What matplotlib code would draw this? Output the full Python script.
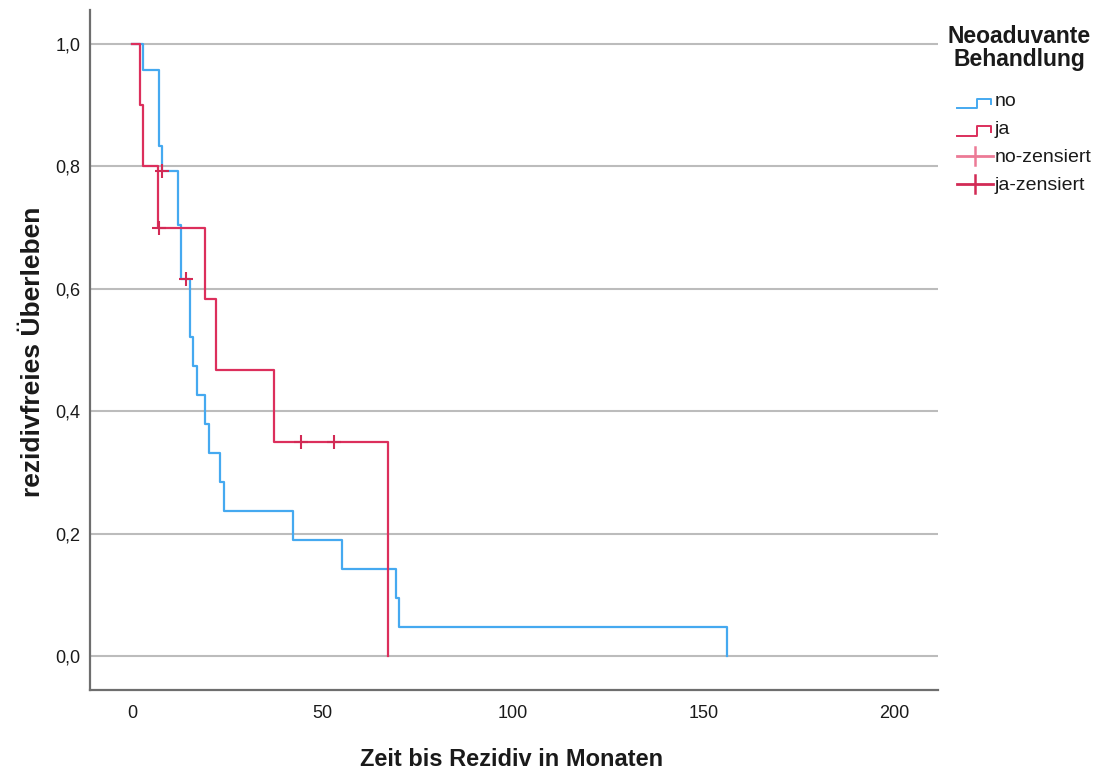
import matplotlib
matplotlib.use("Agg")
import matplotlib.pyplot as plt
from matplotlib.lines import Line2D
from matplotlib.ticker import FuncFormatter

# ---- data (Kaplan-Meier steps) ----
no_times = [0, 3.0, 7.1, 8.0, 12.2, 13.0, 15.2, 16.1, 17.1, 19.2, 20.2, 23.1, 24.1, 42.2, 55.2, 69.2, 70.2, 156.2]
no_surv = [1.0, 0.958, 0.833, 0.792, 0.704, 0.616, 0.521, 0.474, 0.426, 0.379, 0.332, 0.284, 0.237, 0.190, 0.142, 0.095, 0.047, 0.0]
no_cens_t = [8.0, 14.1]
no_cens_s = [0.792, 0.616]

ja_times = [0, 2.1, 3.0, 6.9, 19.2, 22.2, 37.3, 67.2]
ja_surv = [1.0, 0.9, 0.8, 0.7, 0.583, 0.467, 0.35, 0.0]
ja_cens_t = [7.2, 44.3, 53.1]
ja_cens_s = [0.7, 0.35, 0.35]

x_ticks = [0, 50, 100, 150, 200]
y_ticks = [0.0, 0.2, 0.4, 0.6, 0.8, 1.0]

legend_title = "Neoaduvante\nBehandlung"
legend_labels = ["no", "ja", "no-zensiert", "ja-zensiert"]

BLUE = "#45a9f0"
RED = "#dc2f5c"
CROSS = "#d22a55"
CROSS_LIGHT = "#ec7a96"
TXT = "#1a1a1a"

FONT = ["Liberation Sans", "DejaVu Sans"]
plt.rcParams["font.family"] = FONT

W, H = 1101, 771
fig = plt.figure(figsize=(W / 100, H / 100), dpi=100)

def fx(px):
    return px / W

def fy(py):
    return 1 - py / H

ax = fig.add_axes([fx(90), fy(690), fx(937.7) - fx(90), fy(10) - fy(690)])
ax.set_xlim(-11.0, 211.5)
ax.set_ylim(-0.0556, 1.0556)

for yv in y_ticks:
    ax.axhline(yv, color="#bcbcbc", lw=1.5, zorder=1)

ax.step(no_times, no_surv, where="post", color=BLUE, lw=1.6, zorder=3)
ax.step(ja_times, ja_surv, where="post", color=RED, lw=1.6, zorder=3)
ax.plot(no_cens_t, no_cens_s, ls="none", marker="+", ms=10, mew=1.5, color=CROSS, zorder=4)
ax.plot(ja_cens_t, ja_cens_s, ls="none", marker="+", ms=10, mew=1.5, color=CROSS, zorder=4)

ax.set_xticks(x_ticks)
ax.set_yticks(y_ticks)
ax.yaxis.set_major_formatter(FuncFormatter(lambda v, p: f"{v:.1f}".replace(".", ",")))
ax.tick_params(axis="both", length=0, labelsize=13, colors=TXT)
ax.tick_params(axis="x", pad=11)
ax.tick_params(axis="y", pad=7)

for s in ["top", "right"]:
    ax.spines[s].set_visible(False)
for s in ["left", "bottom"]:
    ax.spines[s].set_color("#6e6e6e")
    ax.spines[s].set_linewidth(1.6)

fig.text(fx(512), fy(759), "Zeit bis Rezidiv in Monaten", ha="center", va="center",
         fontsize=17, fontweight="bold", color=TXT)
fig.text(fx(33), fy(352), "rezidivfreies Überleben", ha="center", va="center",
         rotation=90, fontsize=19, fontweight="bold", color=TXT)

# ---- legend (drawn manually) ----
fig.text(fx(1019), fy(48), legend_title, ha="center", va="center", fontsize=16.5,
         fontweight="bold", color=TXT, linespacing=1.05)

def step_glyph(y_low, y_high, color):
    xs = [957, 977, 977, 991, 991]
    ys = [y_low, y_low, y_high, y_high, y_low - 4]
    fig.add_artist(Line2D([fx(v) for v in xs], [fy(v) for v in ys], color=color, lw=1.4,
                          transform=fig.transFigure))

def cross_glyph(yc, color):
    fig.add_artist(Line2D([fx(957), fx(993)], [fy(yc), fy(yc)], color=color, lw=2.0,
                          transform=fig.transFigure))
    fig.add_artist(Line2D([fx(975), fx(975)], [fy(yc - 9), fy(yc + 9)], color=color, lw=1.8,
                          transform=fig.transFigure))

step_glyph(107.5, 98.5, BLUE)
step_glyph(135.5, 126, RED)
cross_glyph(156, CROSS_LIGHT)
cross_glyph(184, CROSS)

for lab, yc in zip(legend_labels, [102, 130, 158, 186]):
    fig.text(fx(995), fy(yc), lab, ha="left", va="center", fontsize=14, color=TXT)

fig.savefig("out.png", dpi=100, facecolor="white")
